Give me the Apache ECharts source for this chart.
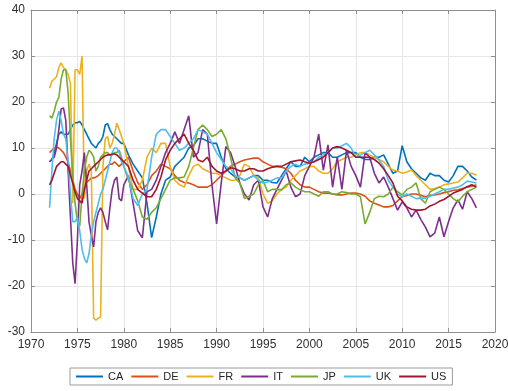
<!DOCTYPE html>
<html>
<head>
<meta charset="utf-8">
<script src="https://cdn.jsdelivr.net/npm/echarts@6/dist/echarts.min.js"></script>
<style>
html,body{margin:0;padding:0;background:#fff;}
#c{width:508px;height:391px;}
</style>
</head>
<body>
<div id="c"></div>
<script>
// time axis: quarterly 1972-1979, semi-annual 1980-2018
var dates = [
1972.0,1972.25,1972.5,1972.75,1973.0,1973.25,1973.5,1973.75,
1974.0,1974.25,1974.5,1974.75,1975.0,1975.25,1975.5,1975.75,
1976.0,1976.25,1976.5,1976.75,1977.0,1977.25,1977.5,1977.75,
1978.0,1978.25,1978.5,1978.75,1979.0,1979.25,1979.5,1979.75,
1980.0,1980.5,1981.0,1981.5,1982.0,1982.5,1983.0,1983.5,1984.0,1984.5,
1985.0,1985.5,1986.0,1986.5,1987.0,1987.5,1988.0,1988.5,1989.0,1989.5,
1990.0,1990.5,1991.0,1991.5,1992.0,1992.5,1993.0,1993.5,1994.0,1994.5,
1995.0,1995.5,1996.0,1996.5,1997.0,1997.5,1998.0,1998.5,1999.0,1999.5,
2000.0,2000.5,2001.0,2001.5,2002.0,2002.5,2003.0,2003.5,2004.0,2004.5,
2005.0,2005.5,2006.0,2006.5,2007.0,2007.5,2008.0,2008.5,2009.0,2009.5,
2010.0,2010.5,2011.0,2011.5,2012.0,2012.5,2013.0,2013.5,2014.0,2014.5,
2015.0,2015.5,2016.0,2016.5,2017.0,2017.5,2018.0
];

var seriesNames = ['CA','DE','FR','IT','JP','UK','US'];

var CA = [
7,7.5,9,11, 13,13.5,13,13, 13,14,15,15.5, 15.5,15.8,15,14, 13,12,11,10.5, 10,11,11.5,12.5, 15,15.3,14,13, 12.5,12,11.5,11,
11,8.5,6.5,5,3.5,-2,-9.5,-5,0,3, 3.7,6,7,8,10,10.5,12,12,11.5,11,
11,8,5.5,4.5,3.7,3.5,3,3.5,4,4, 3,3,2.5,2.4,4,5.5,7,6,6,8,
7,8,8.5,9,9,8,8,8.5,9,9, 9,8,7.5,7.5,8,8,8.5,6.5,4.5,5,
10.5,7,5.5,4.5,3.5,3,4.5,4,4,3, 2.6,4,6,6,5,3.7,3
];
var DE = [
9,9.5,10,10.2, 10,9.5,9,8, 7,5,3,1, 0,-1,0,1.5, 2.5,3,3.5,3.5, 3.7,4,4.5,5, 5.5,6,6.5,6.5, 7,6.5,6,6.5,
7,8,5,2.5,1,2,4,5,6.5,6, 5.5,4,3,2.5,2.4,2,1.5,1.5,1.5,2,
3,4,5,6,6.5,7,7.4,7.6,7.8,7.8, 7,6.5,6,6,5.8,5.5,4.5,3,2,1.5,
1.5,1,0.5,0.2,0.2,0,-0.2,-0.2,0,0.2, 0.2,0,-0.5,-1.5,-2,-2.4,-2.8,-2.8,-2.5,-1.5,
-0.6,-0.3,0,0,-0.3,-0.6,-0.3,-0.2,0,0.3, 0.5,0.8,0.9,1.2,1.5,1.7,2
];
var FR = [
23,24.5,25,25.5, 27.5,28.5,27.5,27, 26,24,-2,27, 27,26,30,-1, 5,6.5,5,-27, -27.4,-27,-26.7,6, 12,12.5,10,11, 13,15.4,14,12.5,
11,6,1,1,3,8,10,9,11,11, 6,3,2,1.5,4,6,6.5,5.5,5,4.5,
4.5,4,3.5,3,3,4,6.5,6,4,3.5, 0,-2,-1.5,0,1,1.5,3,4,5,5.5,
6,6,5,4.5,4.5,5.5,7,7.5,8,8, 8.5,9,9,8.5,8,7.5,7,6,5.2,5,
4.5,4.8,5.2,4,3,2,1,1.2,1.5,2, 2.2,2.4,2.6,3.5,4.5,4.5,4.1
];
var IT = [
7,7.5,8,10, 14,18.5,18.7,16, 5,-5,-15,-19.5, -10,2,5,9, 2,-6,-9,-11.5, -6,-4,-3,-4, -6,-7.8,-3,1, 3,3.7,-1,-1.5,
2,4,-2,-8,-9.5,0.5,1,3,6,9, 11,13.5,11,14,17,8,9,14,13,2,
-6.5,2.4,10.3,9,6,2.4,0,-1.3,2,3, -2.8,-5,-1,1,3,5,1.5,-0.6,0,4,
6,8,13,5.2,10.7,1.5,8,1,9.5,6, 4,1.5,9,8,4.5,2.4,3.7,1.5,-1,-3.5,
-1.7,-3,-5,-3.5,-5.5,-7.2,-9.3,-8.5,-5,-9.3, -6,-3,-1.3,-3.3,0.5,-1,-3
];
var JP = [
17,16.5,18,20, 21,25,27,27, 22,12,4,-2, -6,-7,0,5, 8,9.5,9,8, 5,6,8,8.5, 9,9,8.5,8.5, 9,9,9.5,8,
6,3,1,-1.5,-5,-5.5,-4,-3,-1,1, 3,3.5,3.5,3.7,6,10,14,15,14,12.5,
13,14,12,8,3.5,2.4,-1,-0.5,0,2, 3,0.5,1,1,0.9,2,2.4,1.5,0.9,0.5,
0.5,0,-0.5,0.5,0.5,0,0,0.5,0.3,0, 0,-0.6,-6.5,-4,-1,-0.5,-0.6,0,1.5,0.5,
-0.2,1,1.5,2.4,-1,-2,0.5,1,1.5,1, 0,-1,-1.7,-0.5,0.5,1,1.5
];
var UK = [
-3,5,12,16, 18,16,13,12, 7,0,-6,-6, -5,-8,-12,-14, -15,-13,-9,-6, -4,-2,0,1, 3,5,7,9, 10,10,9,7,
6,3.7,-1,-2.5,0,1,8,13,14,14, 12.5,11,9.5,10,11,12,14,13.5,13,11,
9,7.5,6,5.5,4,3.5,3,3.5,4,3, 2.4,2.6,3,3.5,3.5,5,6,6.5,6,6.5,
6.7,7,8,8.5,9,10,10,10.5,11,10, 8,8.5,9,9.5,8.5,7.4,6,3,1.5,0,
-0.6,0,-0.5,-1,-0.9,-0.9,-0.5,0,0.5,1, 1,1.3,1.5,2,2.8,2.6,2.4
];
var US = [
2,3,4.5,6, 6.5,7,7,6.5, 6,4,2.4,0.5, -1,-1.5,-2,1, 3,5,5.5,6, 6.5,7,7.5,8, 8.3,8.5,8.5,8.7, 8.7,8.5,8,7.5,
7,6,3,1,0.2,-0.6,-0.6,1,3.7,7.4, 9.5,11,12,13,11,9.5,7.4,7,8,6,
5,4.5,5,5.7,5.5,5,5,5.5,5.5,5, 5,5.5,5.8,6,6,6.5,7,7.2,7.4,7,
6.7,7,7.5,8,9,10,10.3,10,9.5,9, 8,8,8,8,7.5,6.7,5.5,4,2.4,-0.5,
-1.5,-2.8,-3.3,-3.5,-3.5,-3.3,-2.6,-2.2,-1.6,-1.2, -0.5,0.2,0.6,1,1.6,2,1.5
];

var seriesValues = [CA, DE, FR, IT, JP, UK, US];
var colors = ['#0072BD','#D95319','#EDB120','#7E2F8E','#77AC30','#4DBEEE','#A2142F'];

var xTicks = {min:1970, max:2020, interval:5};
var yTicks = {min:-30, max:40, interval:10};

var chart = echarts.init(document.getElementById('c'), null, {renderer:'canvas'});

var axisColor = '#8f8f8f';
var labelStyle = {color:'#303030', fontSize:12, fontFamily:'Liberation Sans, Arial, sans-serif'};

var series = seriesNames.map(function(name, k){
  return {
    name: name,
    type: 'line',
    xAxisIndex: 0, yAxisIndex: 0,
    showSymbol: false,
    symbol: 'none',
    lineStyle: {width: 1.6, color: colors[k]},
    itemStyle: {color: colors[k]},
    data: dates.map(function(d, i){ return [d, seriesValues[k][i]]; }),
    animation: false
  };
});

chart.setOption({
  backgroundColor: '#ffffff',
  animation: false,
  color: colors,
  grid: {left: 31, right: 13, top: 10, bottom: 59, containLabel: false, outerBoundsMode: 'none'},
  legend: {
    data: seriesNames,
    top: 368,
    left: 70,
    orient: 'horizontal',
    icon: 'rect',
    itemWidth: 27,
    itemHeight: 2,
    itemGap: 8,
    padding: [3, 6],
    borderColor: '#9a9a9a',
    borderWidth: 1,
    textStyle: {color:'#262626', fontSize:11, fontFamily:'Liberation Sans, Arial, sans-serif'}
  },
  xAxis: [
    {type:'value', position:'bottom', min:xTicks.min, max:xTicks.max, interval:xTicks.interval,
     axisLine:{show:true, onZero:false, lineStyle:{color:axisColor, width:1}},
     axisTick:{show:true, inside:true, length:4, lineStyle:{color:axisColor}},
     axisLabel:Object.assign({margin:7, formatter:function(v){return String(v);}}, labelStyle),
     splitLine:{show:true, lineStyle:{color:'#e6e6e6', width:1}}},
    {type:'value', position:'top', min:xTicks.min, max:xTicks.max, interval:xTicks.interval,
     axisLine:{show:true, onZero:false, lineStyle:{color:axisColor, width:1}},
     axisTick:{show:true, inside:true, length:4, lineStyle:{color:axisColor}},
     axisLabel:{show:false}, splitLine:{show:false}}
  ],
  yAxis: [
    {type:'value', position:'left', min:yTicks.min, max:yTicks.max, interval:yTicks.interval,
     axisLine:{show:true, onZero:false, lineStyle:{color:axisColor, width:1}},
     axisTick:{show:true, inside:true, length:4, lineStyle:{color:axisColor}},
     axisLabel:Object.assign({margin:6}, labelStyle),
     splitLine:{show:true, lineStyle:{color:'#e6e6e6', width:1}}},
    {type:'value', position:'right', min:yTicks.min, max:yTicks.max, interval:yTicks.interval,
     axisLine:{show:true, onZero:false, lineStyle:{color:axisColor, width:1}},
     axisTick:{show:true, inside:true, length:4, lineStyle:{color:axisColor}},
     axisLabel:{show:false}, splitLine:{show:false}}
  ],
  series: series
});
</script>
</body>
</html>
